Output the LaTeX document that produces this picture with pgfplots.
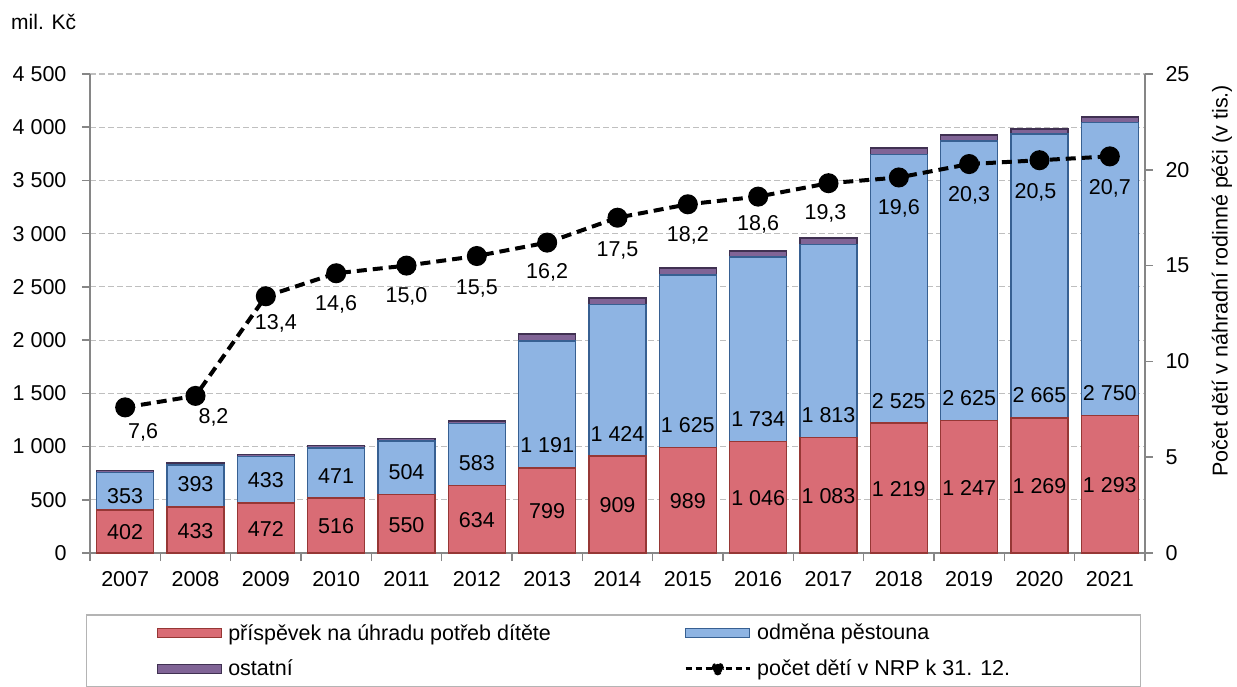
\documentclass[border=0pt]{standalone}
\usepackage{fontspec}
\setmainfont{Liberation Sans}
\usepackage{pgfplots}
\usepackage{pgfplotstable}
\pgfplotsset{compat=1.18}

\definecolor{redfill}{RGB}{217,108,117}
\definecolor{redline}{RGB}{150,55,53}
\definecolor{bluefill}{RGB}{142,180,227}
\definecolor{blueline}{RGB}{55,96,146}
\definecolor{purplefill}{RGB}{128,100,150}
\definecolor{purpleline}{RGB}{64,49,82}
\definecolor{gridgray}{RGB}{191,191,191}
\definecolor{axisgray}{RGB}{134,134,134}
\definecolor{leggray}{RGB}{180,180,180}

% boff: position of the blue value label above the red segment (data units)
\pgfplotstableread{
x red blue other boff
0 402 353 20 136
1 433 393 20 211
2 472 433 22 211
3 516 471 21 211
4 550 504 23 211
5 634 583 25 211
6 799 1191 68 211
7 909 1424 62 211
8 989 1625 63 211
9 1046 1734 56 211
10 1083 1813 62 211
11 1219 2525 59 211
12 1247 2625 53 211
13 1269 2665 50 211
14 1293 2750 54 211
}\bardata

\pgfplotstableread{
x y dx dy
0 7.6 18 -25
1 8.2 18 -21
2 13.4 10 -27
3 14.6 0 -31
4 15.0 0 -31
5 15.5 0 -32
6 16.2 0 -30
7 17.5 0 -33
8 18.2 0 -31
9 18.6 0 -28
10 19.3 -3 -30
11 19.6 0 -31
12 20.3 0 -31
13 20.5 -4 -32
14 20.7 0 -32
}\linedata

\newcommand{\bigfont}{\fontsize{21.5}{25}\selectfont}

\pgfplotsset{
  barleg/.style={legend image code/.code={\draw[##1] (0pt,-4.5pt) rectangle (64pt,4.5pt);}},
  lineleg/.style={legend image code/.code={\draw[##1] (0pt,0pt) -- (64pt,0pt); \fill[black] (32pt,0pt) circle (5pt);}},
  barlabel/.style={
    draw=none, mark=none,
    point meta=explicit,
    nodes near coords={\pgfmathprintnumber[fixed,precision=0,1000 sep={\ },assume math mode=true]{\pgfplotspointmeta}},
    nodes near coords align={center},
    every node near coord/.append style={anchor=center, font=\bigfont, text=black},
  },
}

\begin{document}
\begin{tikzpicture}
\path[use as bounding box] (0,0) rectangle (1237pt,686pt);
\begin{axis}[
  at={(90pt,133pt)}, anchor=south west,
  width=1055pt, height=479pt, scale only axis,
  xmin=-0.5, xmax=14.5, ymin=0, ymax=4500,
  ybar stacked, bar width=57pt,
  axis x line*=bottom, axis y line*=left,
  axis line style={draw=axisgray, line width=1.5pt, -},
  xtick={0,...,14},
  xticklabels={2007,2008,2009,2010,2011,2012,2013,2014,2015,2016,2017,2018,2019,2020,2021},
  minor xtick={-0.5,0.5,...,14.5},
  major x tick style={draw=none},
  minor x tick style={draw=axisgray, line width=1.5pt},
  ytick={0,500,...,4500},
  yticklabels={0,500,1 000,1 500,2 000,2 500,3 000,3 500,4 000,4 500},
  ytick style={draw=axisgray, line width=1.5pt},
  tick align=outside,
  major tick length=8pt, minor tick length=8pt,
  ymajorgrids,
  major grid style={draw=gridgray, line width=1.2pt, dash pattern=on 6pt off 3pt},
  tick label style={font=\bigfont},
  yticklabel style={xshift=-12pt},
  xticklabel style={yshift=-6.5pt},
  legend columns=2, legend cell align=left,
  legend style={at={(axis description cs:0,0)}, anchor=north west, xshift=-4pt, yshift=-61pt,
    draw=leggray, line width=1.5pt, inner xsep=70pt, inner ysep=7.5pt, row sep=14.5pt,
    font=\bigfont, nodes={inner sep=2pt},
    /tikz/every odd column/.append style={column sep=4pt}},
]
\addplot[fill=redfill, draw=redline, line width=1.5pt, barleg]
  table[x=x,y=red]{\bardata};
\addlegendentry{\makebox[454pt][l]{příspěvek na úhradu potřeb dítěte}}
\addplot[fill=bluefill, draw=blueline, line width=1.5pt, barleg]
  table[x=x,y=blue]{\bardata};
\addlegendentry{\makebox[311pt][l]{odměna pěstouna}}
\addplot[fill=purplefill, draw=purpleline, line width=1.5pt, barleg]
  table[x=x,y=other]{\bardata};
\addlegendentry{ostatní}
\addlegendimage{black, line width=3pt, dash pattern=on 6pt off 4pt, lineleg}
\addlegendentry{počet dětí v NRP k 31. 12.}
\end{axis}

% value labels of the bars
\begin{axis}[
  at={(90pt,133pt)}, anchor=south west,
  width=1055pt, height=479pt, scale only axis,
  xmin=-0.5, xmax=14.5, ymin=0, ymax=4500,
  hide axis, clip=false,
]
\addplot[barlabel] table[x=x, y expr=\thisrow{red}/2-9, meta=red]{\bardata};
\addplot[barlabel] table[x=x, y expr=\thisrow{red}+\thisrow{boff}, meta=blue]{\bardata};
\end{axis}

\begin{axis}[
  at={(90pt,133pt)}, anchor=south west,
  width=1055pt, height=479pt, scale only axis,
  xmin=-0.5, xmax=14.5, ymin=0, ymax=25,
  axis x line=none, axis y line*=right,
  axis line style={draw=axisgray, line width=1.5pt, -},
  ytick={0,5,...,25},
  ytick style={draw=axisgray, line width=1.5pt},
  tick align=outside, major tick length=8pt,
  yticklabel style={font=\bigfont, xshift=9pt, /pgf/number format/assume math mode=true},
]
\addplot[black, line width=4pt, dash pattern=on 10pt off 6pt, mark=*, mark size=8pt, mark options={solid},
  nodes near coords={\pgfmathprintnumber[fixed,fixed zerofill,precision=1,dec sep={,},assume math mode=true]{\pgfplotspointmeta}},
  point meta=y,
  nodes near coords align={center},
  visualization depends on={\thisrow{dx} \as \ldx},
  visualization depends on={\thisrow{dy} \as \ldy},
  every node near coord/.append style={anchor=center, xshift=\ldx, yshift=\ldy, font=\bigfont, text=black},
] table[x=x,y=y]{\linedata};
\end{axis}

\node[anchor=west, font=\fontsize{21}{25}\selectfont, inner sep=0pt] at (11pt,664pt) {mil. Kč};
\node[rotate=90, font=\bigfont, inner sep=0pt] at (1222pt,405pt) {Počet dětí v náhradní rodinné péči (v tis.)};
\end{tikzpicture}
\end{document}
